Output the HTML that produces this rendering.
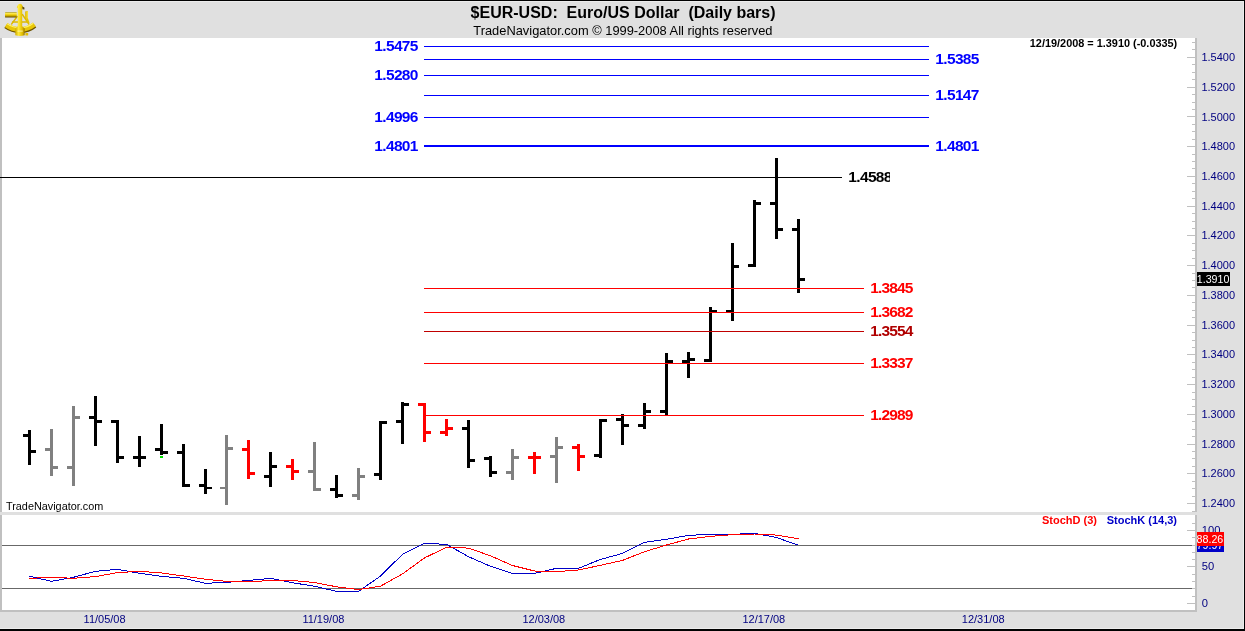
<!DOCTYPE html>
<html><head><meta charset="utf-8"><title>$EUR-USD Daily</title>
<style>
html,body{margin:0;padding:0;background:#fff}
#c{position:relative;width:1245px;height:631px;overflow:hidden;font-family:"Liberation Sans",sans-serif}
#c div{position:absolute;white-space:pre;line-height:1}
</style></head><body><div id="c">
<svg width="1245" height="631" viewBox="0 0 1245 631" shape-rendering="crispEdges" style="position:absolute;left:0;top:0"><rect x="0" y="0" width="1245" height="631" fill="#fff"/>
<rect x="0" y="1" width="1244" height="37" fill="#e0e0e0"/>
<rect x="1197" y="1" width="47" height="628" fill="#e0e0e0"/>
<rect x="0" y="612" width="1244" height="17" fill="#e0e0e0"/>
<rect x="0" y="38" width="2" height="574" fill="#c0c0c0"/>
<rect x="1195" y="38" width="2" height="574" fill="#c0c0c0"/>
<rect x="0" y="610" width="1197" height="2" fill="#c0c0c0"/>
<rect x="0" y="1" width="1244" height="1" fill="#ececec"/>
<rect x="1243" y="1" width="1" height="628" fill="#ececec"/>
<rect x="0" y="628" width="1244" height="1" fill="#ececec"/>
<rect x="0" y="0" width="1245" height="1" fill="#000"/>
<rect x="1244" y="0" width="1" height="631" fill="#000"/>
<rect x="0" y="629" width="1245" height="2" fill="#000"/>
<rect x="1192" y="42" width="3" height="1" fill="#c0c0c0"/>
<rect x="1192" y="49" width="3" height="1" fill="#c0c0c0"/>
<rect x="1187" y="57" width="8" height="1" fill="#c0c0c0"/>
<rect x="1192" y="64" width="3" height="1" fill="#c0c0c0"/>
<rect x="1192" y="72" width="3" height="1" fill="#c0c0c0"/>
<rect x="1192" y="79" width="3" height="1" fill="#c0c0c0"/>
<rect x="1187" y="87" width="8" height="1" fill="#c0c0c0"/>
<rect x="1192" y="94" width="3" height="1" fill="#c0c0c0"/>
<rect x="1192" y="102" width="3" height="1" fill="#c0c0c0"/>
<rect x="1192" y="109" width="3" height="1" fill="#c0c0c0"/>
<rect x="1187" y="116" width="8" height="1" fill="#c0c0c0"/>
<rect x="1192" y="124" width="3" height="1" fill="#c0c0c0"/>
<rect x="1192" y="131" width="3" height="1" fill="#c0c0c0"/>
<rect x="1192" y="139" width="3" height="1" fill="#c0c0c0"/>
<rect x="1187" y="146" width="8" height="1" fill="#c0c0c0"/>
<rect x="1192" y="154" width="3" height="1" fill="#c0c0c0"/>
<rect x="1192" y="161" width="3" height="1" fill="#c0c0c0"/>
<rect x="1192" y="168" width="3" height="1" fill="#c0c0c0"/>
<rect x="1187" y="176" width="8" height="1" fill="#c0c0c0"/>
<rect x="1192" y="183" width="3" height="1" fill="#c0c0c0"/>
<rect x="1192" y="191" width="3" height="1" fill="#c0c0c0"/>
<rect x="1192" y="198" width="3" height="1" fill="#c0c0c0"/>
<rect x="1187" y="206" width="8" height="1" fill="#c0c0c0"/>
<rect x="1192" y="213" width="3" height="1" fill="#c0c0c0"/>
<rect x="1192" y="221" width="3" height="1" fill="#c0c0c0"/>
<rect x="1192" y="228" width="3" height="1" fill="#c0c0c0"/>
<rect x="1187" y="235" width="8" height="1" fill="#c0c0c0"/>
<rect x="1192" y="243" width="3" height="1" fill="#c0c0c0"/>
<rect x="1192" y="250" width="3" height="1" fill="#c0c0c0"/>
<rect x="1192" y="258" width="3" height="1" fill="#c0c0c0"/>
<rect x="1187" y="265" width="8" height="1" fill="#c0c0c0"/>
<rect x="1192" y="273" width="3" height="1" fill="#c0c0c0"/>
<rect x="1192" y="280" width="3" height="1" fill="#c0c0c0"/>
<rect x="1192" y="287" width="3" height="1" fill="#c0c0c0"/>
<rect x="1187" y="295" width="8" height="1" fill="#c0c0c0"/>
<rect x="1192" y="302" width="3" height="1" fill="#c0c0c0"/>
<rect x="1192" y="310" width="3" height="1" fill="#c0c0c0"/>
<rect x="1192" y="317" width="3" height="1" fill="#c0c0c0"/>
<rect x="1187" y="325" width="8" height="1" fill="#c0c0c0"/>
<rect x="1192" y="332" width="3" height="1" fill="#c0c0c0"/>
<rect x="1192" y="340" width="3" height="1" fill="#c0c0c0"/>
<rect x="1192" y="347" width="3" height="1" fill="#c0c0c0"/>
<rect x="1187" y="354" width="8" height="1" fill="#c0c0c0"/>
<rect x="1192" y="362" width="3" height="1" fill="#c0c0c0"/>
<rect x="1192" y="369" width="3" height="1" fill="#c0c0c0"/>
<rect x="1192" y="377" width="3" height="1" fill="#c0c0c0"/>
<rect x="1187" y="384" width="8" height="1" fill="#c0c0c0"/>
<rect x="1192" y="392" width="3" height="1" fill="#c0c0c0"/>
<rect x="1192" y="399" width="3" height="1" fill="#c0c0c0"/>
<rect x="1192" y="406" width="3" height="1" fill="#c0c0c0"/>
<rect x="1187" y="414" width="8" height="1" fill="#c0c0c0"/>
<rect x="1192" y="421" width="3" height="1" fill="#c0c0c0"/>
<rect x="1192" y="429" width="3" height="1" fill="#c0c0c0"/>
<rect x="1192" y="436" width="3" height="1" fill="#c0c0c0"/>
<rect x="1187" y="444" width="8" height="1" fill="#c0c0c0"/>
<rect x="1192" y="451" width="3" height="1" fill="#c0c0c0"/>
<rect x="1192" y="458" width="3" height="1" fill="#c0c0c0"/>
<rect x="1192" y="466" width="3" height="1" fill="#c0c0c0"/>
<rect x="1187" y="473" width="8" height="1" fill="#c0c0c0"/>
<rect x="1192" y="481" width="3" height="1" fill="#c0c0c0"/>
<rect x="1192" y="488" width="3" height="1" fill="#c0c0c0"/>
<rect x="1192" y="496" width="3" height="1" fill="#c0c0c0"/>
<rect x="1187" y="503" width="8" height="1" fill="#c0c0c0"/>
<rect x="1192" y="511" width="3" height="1" fill="#c0c0c0"/>
<rect x="1187" y="603" width="8" height="1" fill="#c0c0c0"/>
<rect x="1192" y="596" width="3" height="1" fill="#c0c0c0"/>
<rect x="1192" y="588" width="3" height="1" fill="#c0c0c0"/>
<rect x="1192" y="581" width="3" height="1" fill="#c0c0c0"/>
<rect x="1192" y="574" width="3" height="1" fill="#c0c0c0"/>
<rect x="1187" y="566" width="8" height="1" fill="#c0c0c0"/>
<rect x="1192" y="559" width="3" height="1" fill="#c0c0c0"/>
<rect x="1192" y="552" width="3" height="1" fill="#c0c0c0"/>
<rect x="1192" y="545" width="3" height="1" fill="#c0c0c0"/>
<rect x="1192" y="537" width="3" height="1" fill="#c0c0c0"/>
<rect x="1187" y="530" width="8" height="1" fill="#c0c0c0"/>
<rect x="1192" y="523" width="3" height="1" fill="#c0c0c0"/>
<rect x="0" y="512" width="1197" height="3" fill="#e0e0e0"/>
<rect x="424" y="46" width="505" height="1" fill="#00f"/>
<rect x="424" y="59" width="505" height="1" fill="#00f"/>
<rect x="424" y="75" width="505" height="1" fill="#00f"/>
<rect x="424" y="95" width="505" height="1" fill="#00f"/>
<rect x="424" y="117" width="505" height="1" fill="#00f"/>
<rect x="424" y="145" width="505" height="2" fill="#00f"/>
<rect x="0" y="177" width="842" height="1" fill="#000"/>
<rect x="28" y="430" width="3" height="35" fill="#000"/>
<rect x="23" y="434" width="5" height="3" fill="#000"/>
<rect x="31" y="450" width="5" height="3" fill="#000"/>
<rect x="50" y="429" width="3" height="47" fill="#808080"/>
<rect x="45" y="448" width="5" height="3" fill="#808080"/>
<rect x="53" y="466" width="5" height="3" fill="#808080"/>
<rect x="72" y="406" width="3" height="80" fill="#808080"/>
<rect x="67" y="466" width="5" height="3" fill="#808080"/>
<rect x="75" y="416" width="5" height="3" fill="#808080"/>
<rect x="94" y="396" width="3" height="50" fill="#000"/>
<rect x="89" y="416" width="5" height="3" fill="#000"/>
<rect x="97" y="420" width="5" height="3" fill="#000"/>
<rect x="116" y="420" width="3" height="43" fill="#000"/>
<rect x="111" y="420" width="5" height="3" fill="#000"/>
<rect x="119" y="456" width="5" height="3" fill="#000"/>
<rect x="138" y="436" width="3" height="31" fill="#000"/>
<rect x="133" y="456" width="5" height="3" fill="#000"/>
<rect x="141" y="456" width="5" height="3" fill="#000"/>
<rect x="160" y="424" width="3" height="31" fill="#000"/>
<rect x="155" y="448" width="5" height="3" fill="#000"/>
<rect x="163" y="451" width="5" height="3" fill="#000"/>
<rect x="182" y="444" width="3" height="43" fill="#000"/>
<rect x="177" y="451" width="5" height="3" fill="#000"/>
<rect x="185" y="484" width="5" height="3" fill="#000"/>
<rect x="204" y="469" width="3" height="25" fill="#000"/>
<rect x="199" y="484" width="5" height="3" fill="#000"/>
<rect x="207" y="487" width="5" height="2" fill="#000"/>
<rect x="225" y="435" width="3" height="70" fill="#808080"/>
<rect x="220" y="487" width="5" height="2" fill="#808080"/>
<rect x="228" y="447" width="5" height="3" fill="#808080"/>
<rect x="247" y="440" width="3" height="39" fill="#f00"/>
<rect x="242" y="448" width="5" height="3" fill="#f00"/>
<rect x="250" y="472" width="5" height="3" fill="#f00"/>
<rect x="269" y="452" width="3" height="35" fill="#000"/>
<rect x="264" y="475" width="5" height="3" fill="#000"/>
<rect x="272" y="465" width="5" height="3" fill="#000"/>
<rect x="291" y="459" width="3" height="21" fill="#f00"/>
<rect x="286" y="465" width="5" height="3" fill="#f00"/>
<rect x="294" y="470" width="5" height="3" fill="#f00"/>
<rect x="313" y="442" width="3" height="49" fill="#808080"/>
<rect x="308" y="470" width="5" height="3" fill="#808080"/>
<rect x="316" y="488" width="5" height="3" fill="#808080"/>
<rect x="335" y="475" width="3" height="23" fill="#000"/>
<rect x="330" y="488" width="5" height="3" fill="#000"/>
<rect x="338" y="494" width="5" height="3" fill="#000"/>
<rect x="357" y="468" width="3" height="32" fill="#808080"/>
<rect x="352" y="494" width="5" height="3" fill="#808080"/>
<rect x="360" y="475" width="5" height="3" fill="#808080"/>
<rect x="379" y="421" width="3" height="59" fill="#000"/>
<rect x="374" y="473" width="5" height="3" fill="#000"/>
<rect x="382" y="421" width="5" height="3" fill="#000"/>
<rect x="401" y="402" width="3" height="42" fill="#000"/>
<rect x="396" y="420" width="5" height="3" fill="#000"/>
<rect x="404" y="403" width="5" height="3" fill="#000"/>
<rect x="423" y="403" width="3" height="39" fill="#f00"/>
<rect x="418" y="403" width="5" height="3" fill="#f00"/>
<rect x="426" y="431" width="5" height="3" fill="#f00"/>
<rect x="445" y="419" width="3" height="17" fill="#f00"/>
<rect x="440" y="431" width="5" height="3" fill="#f00"/>
<rect x="448" y="427" width="5" height="3" fill="#f00"/>
<rect x="467" y="420" width="3" height="48" fill="#000"/>
<rect x="462" y="427" width="5" height="3" fill="#000"/>
<rect x="470" y="459" width="5" height="3" fill="#000"/>
<rect x="489" y="456" width="3" height="21" fill="#000"/>
<rect x="484" y="457" width="5" height="3" fill="#000"/>
<rect x="492" y="471" width="5" height="3" fill="#000"/>
<rect x="511" y="449" width="3" height="31" fill="#808080"/>
<rect x="506" y="471" width="5" height="3" fill="#808080"/>
<rect x="514" y="456" width="5" height="3" fill="#808080"/>
<rect x="533" y="452" width="3" height="22" fill="#f00"/>
<rect x="528" y="456" width="5" height="3" fill="#f00"/>
<rect x="536" y="456" width="5" height="3" fill="#f00"/>
<rect x="555" y="437" width="3" height="46" fill="#808080"/>
<rect x="550" y="455" width="5" height="3" fill="#808080"/>
<rect x="558" y="446" width="5" height="3" fill="#808080"/>
<rect x="577" y="444" width="3" height="27" fill="#f00"/>
<rect x="572" y="446" width="5" height="3" fill="#f00"/>
<rect x="580" y="455" width="5" height="3" fill="#f00"/>
<rect x="599" y="419" width="3" height="39" fill="#000"/>
<rect x="594" y="454" width="5" height="3" fill="#000"/>
<rect x="602" y="419" width="5" height="3" fill="#000"/>
<rect x="621" y="414" width="3" height="31" fill="#000"/>
<rect x="616" y="418" width="5" height="3" fill="#000"/>
<rect x="624" y="424" width="5" height="3" fill="#000"/>
<rect x="643" y="403" width="3" height="26" fill="#000"/>
<rect x="638" y="424" width="5" height="3" fill="#000"/>
<rect x="646" y="410" width="5" height="3" fill="#000"/>
<rect x="665" y="353" width="3" height="63" fill="#000"/>
<rect x="660" y="410" width="5" height="3" fill="#000"/>
<rect x="668" y="360" width="5" height="3" fill="#000"/>
<rect x="687" y="352" width="3" height="26" fill="#000"/>
<rect x="682" y="360" width="5" height="3" fill="#000"/>
<rect x="690" y="358" width="5" height="3" fill="#000"/>
<rect x="709" y="307" width="3" height="55" fill="#000"/>
<rect x="704" y="359" width="5" height="3" fill="#000"/>
<rect x="712" y="310" width="5" height="3" fill="#000"/>
<rect x="731" y="243" width="3" height="78" fill="#000"/>
<rect x="726" y="310" width="5" height="3" fill="#000"/>
<rect x="734" y="265" width="5" height="3" fill="#000"/>
<rect x="753" y="200" width="3" height="67" fill="#000"/>
<rect x="748" y="264" width="5" height="3" fill="#000"/>
<rect x="756" y="202" width="5" height="3" fill="#000"/>
<rect x="775" y="158" width="3" height="81" fill="#000"/>
<rect x="770" y="202" width="5" height="3" fill="#000"/>
<rect x="778" y="228" width="5" height="3" fill="#000"/>
<rect x="797" y="219" width="3" height="74" fill="#000"/>
<rect x="792" y="228" width="5" height="3" fill="#000"/>
<rect x="800" y="278" width="5" height="3" fill="#000"/>
<rect x="160" y="456" width="3" height="2" fill="#00e000"/>
<rect x="424" y="288" width="440" height="1" fill="#f00"/>
<rect x="424" y="312" width="440" height="1" fill="#f00"/>
<rect x="424" y="331" width="440" height="1" fill="#c00000"/>
<rect x="424" y="363" width="440" height="1" fill="#f00"/>
<rect x="426" y="415" width="438" height="1" fill="#f00"/>
<rect x="2" y="545" width="1190" height="1" fill="#686868"/>
<rect x="2" y="588" width="1190" height="1" fill="#686868"/>
<polyline points="29.5,576.3 51.5,581.3 73.5,577.3 95.5,571.3 117.5,569.3 139.5,573.3 161.5,576.3 183.5,578.3 205.5,583.3 226.5,582.4 248.5,580.4 270.5,578.4 292.5,582.7 314.5,586.3 336.5,591.3 358.5,591.3 380.5,576.1 402.5,554.3 424.5,543.4 446.5,544.3 468.5,556.7 490.5,566.3 512.5,573.4 534.5,573.4 556.5,568.3 578.5,568.3 600.5,559.4 622.5,553.4 644.5,542.3 666.5,539.3 688.5,535.3 710.5,534.4 732.5,534.4 754.5,533.3 776.5,537.5 798.5,545.3" fill="none" stroke="#0000c8" stroke-width="1" stroke-linejoin="bevel" shape-rendering="crispEdges"/>
<polyline points="29.5,578.4 51.5,577.3 73.5,578.3 95.5,576.6 117.5,572.6 139.5,571.3 161.5,573.0 183.5,576.0 205.5,579.3 226.5,581.3 248.5,582.0 270.5,580.4 292.5,580.5 314.5,582.5 336.5,586.8 358.5,589.6 380.5,586.2 402.5,573.9 424.5,557.9 446.5,547.3 468.5,548.1 490.5,555.8 512.5,565.5 534.5,571.0 556.5,571.7 578.5,570.0 600.5,565.3 622.5,560.4 644.5,551.7 666.5,545.0 688.5,539.0 710.5,536.3 732.5,534.7 754.5,534.0 776.5,535.1 798.5,538.7" fill="none" stroke="#f00" stroke-width="1" stroke-linejoin="bevel" shape-rendering="crispEdges"/></svg>
<svg width="40" height="40" viewBox="0 0 40 40" style="position:absolute;left:0;top:0">
<defs>
<linearGradient id="gv" x1="0" y1="0" x2="0" y2="1"><stop offset="0" stop-color="#8a7a30"/><stop offset="0.18" stop-color="#fff060"/><stop offset="0.55" stop-color="#ecc800"/><stop offset="1" stop-color="#5a4400"/></linearGradient>
<linearGradient id="gh" x1="0" y1="0" x2="1" y2="0"><stop offset="0" stop-color="#d0aa00"/><stop offset="0.35" stop-color="#ffea38"/><stop offset="0.75" stop-color="#e2bc00"/><stop offset="1" stop-color="#9a7800"/></linearGradient>
</defs>
<g fill="none" stroke="#dcb800" stroke-width="1.4" stroke-linecap="round">
<path d="M17.2 16.5 L11.6 24"/><path d="M22.4 14.5 L28.8 24"/><path d="M12.6 22 H28.2"/>
</g>
<path d="M5.9 25.9 A23.5 23.5 0 0 0 34.6 25.3" fill="none" stroke="#6e5400" stroke-width="5.4"/>
<path d="M6.1 25.0 A23.5 23.5 0 0 0 34.4 24.4" fill="none" stroke="#e8c608" stroke-width="4.8"/>
<path d="M7.2 23.7 A22.2 22.2 0 0 0 33.3 23.2" fill="none" stroke="#fff264" stroke-width="1.1"/>
<rect x="5" y="12" width="11.8" height="5.6" rx="0.7" fill="url(#gv)"/>
<rect x="25.2" y="11.2" width="2.8" height="8" rx="0.6" fill="#dcb600"/>
<rect x="26.4" y="11.2" width="1.6" height="8" rx="0.6" fill="#f6dc30"/>
<path d="M27 18.6 L28.8 23" stroke="#e6c200" stroke-width="1.8"/>
<rect x="25.4" y="33" width="2.8" height="2.6" rx="0.5" fill="#e2be00"/>
<path d="M16.8 7.2 L18.2 4.6 L20 3.7 L21.8 4.6 L23.2 7.2 L22.2 8.2 L22.2 26.2 L24.7 28.6 L24.7 35.2 Q20 36.6 15.3 35.2 L15.3 28.6 L17.8 26.2 L17.8 8.2 Z" fill="url(#gh)"/>
<path d="M22.4 6.6 L24.4 7.6 L24.4 9.6 L22.4 9.2 Z" fill="#5e4a08"/>
<rect x="17.4" y="30.6" width="5.4" height="1" fill="#fff8b0" opacity="0.85"/>
</svg>
<div style="left:470.6px;top:5.02px;font-size:16px;color:#000;font-weight:bold;">$EUR-USD:  Euro/US Dollar  (Daily bars)</div>
<div style="left:473.3px;top:24.63px;font-size:12.86px;color:#000;">TradeNavigator.com © 1999-2008 All rights reserved</div>
<div style="left:1029.8px;top:37.95px;font-size:10.9px;color:#000;font-weight:bold;">12/19/2008 = 1.3910 (-0.0335)</div>
<div style="left:374.3px;top:38.13px;font-size:15.5px;color:#00f;font-weight:bold;letter-spacing:-0.65px;">1.5475</div>
<div style="left:374.3px;top:67.14px;font-size:15.5px;color:#00f;font-weight:bold;letter-spacing:-0.65px;">1.5280</div>
<div style="left:374.3px;top:109.14px;font-size:15.5px;color:#00f;font-weight:bold;letter-spacing:-0.65px;">1.4996</div>
<div style="left:374.3px;top:138.13px;font-size:15.5px;color:#00f;font-weight:bold;letter-spacing:-0.65px;">1.4801</div>
<div style="left:935.3px;top:51.13px;font-size:15.5px;color:#00f;font-weight:bold;letter-spacing:-0.65px;">1.5385</div>
<div style="left:935.3px;top:87.14px;font-size:15.5px;color:#00f;font-weight:bold;letter-spacing:-0.65px;">1.5147</div>
<div style="left:935.3px;top:138.13px;font-size:15.5px;color:#00f;font-weight:bold;letter-spacing:-0.65px;">1.4801</div>
<div style="left:848.3px;top:165px;width:41.5px;height:24px;overflow:hidden"><div style="left:0;top:4.13px;font-size:15.5px;font-weight:bold;letter-spacing:-0.65px;">1.4588</div></div>
<div style="left:870.3px;top:280.13px;font-size:15.5px;color:#f00;font-weight:bold;letter-spacing:-0.87px;">1.3845</div>
<div style="left:870.3px;top:304.13px;font-size:15.5px;color:#f00;font-weight:bold;letter-spacing:-0.87px;">1.3682</div>
<div style="left:870.3px;top:323.13px;font-size:15.5px;color:#b00000;font-weight:bold;letter-spacing:-0.87px;">1.3554</div>
<div style="left:870.3px;top:355.13px;font-size:15.5px;color:#f00;font-weight:bold;letter-spacing:-0.87px;">1.3337</div>
<div style="left:870.3px;top:407.13px;font-size:15.5px;color:#f00;font-weight:bold;letter-spacing:-0.87px;">1.2989</div>
<div style="left:1201.4px;top:52.07px;font-size:11.0px;color:#000080;">1.5400</div>
<div style="left:1201.4px;top:81.80px;font-size:11.0px;color:#000080;">1.5200</div>
<div style="left:1201.4px;top:111.54px;font-size:11.0px;color:#000080;">1.5000</div>
<div style="left:1201.4px;top:141.27px;font-size:11.0px;color:#000080;">1.4800</div>
<div style="left:1201.4px;top:171.00px;font-size:11.0px;color:#000080;">1.4600</div>
<div style="left:1201.4px;top:200.73px;font-size:11.0px;color:#000080;">1.4400</div>
<div style="left:1201.4px;top:230.47px;font-size:11.0px;color:#000080;">1.4200</div>
<div style="left:1201.4px;top:260.20px;font-size:11.0px;color:#000080;">1.4000</div>
<div style="left:1201.4px;top:289.93px;font-size:11.0px;color:#000080;">1.3800</div>
<div style="left:1201.4px;top:319.67px;font-size:11.0px;color:#000080;">1.3600</div>
<div style="left:1201.4px;top:349.40px;font-size:11.0px;color:#000080;">1.3400</div>
<div style="left:1201.4px;top:379.13px;font-size:11.0px;color:#000080;">1.3200</div>
<div style="left:1201.4px;top:408.87px;font-size:11.0px;color:#000080;">1.3000</div>
<div style="left:1201.4px;top:438.60px;font-size:11.0px;color:#000080;">1.2800</div>
<div style="left:1201.4px;top:468.33px;font-size:11.0px;color:#000080;">1.2600</div>
<div style="left:1201.4px;top:498.06px;font-size:11.0px;color:#000080;">1.2400</div>
<div style="left:1201.8px;top:525.30px;font-size:11.2px;color:#000080;">100</div>
<div style="left:1201.8px;top:561.30px;font-size:11.2px;color:#000080;">50</div>
<div style="left:1201.8px;top:598.10px;font-size:11.2px;color:#000080;">0</div>
<div style="left:1197px;top:538px;width:27px;height:14px;background:#0000c8"></div>
<div style="left:1197px;top:532px;width:27px;height:14px;background:#f00"></div>
<div style="left:1197px;top:272px;width:33px;height:14px;background:#000"></div>
<div style="left:1197px;top:546px;width:27px;height:6px;overflow:hidden"><div style="left:-0.4px;top:-5.66px;font-size:10.67px;color:#fff">79.97</div></div>
<div style="left:1196.6px;top:534.34px;font-size:10.67px;color:#fff;">88.26</div>
<div style="left:1196.8px;top:274.14px;font-size:10.67px;color:#fff;">1.3910</div>
<div style="left:6px;top:500.99px;font-size:10.85px;color:#000;">TradeNavigator.com</div>
<div style="left:1042px;top:514.87px;font-size:11.0px;color:#f00;font-weight:bold;">StochD (3)</div>
<div style="left:1106.7px;top:514.87px;font-size:11.0px;color:#0000c8;font-weight:bold;">StochK (14,3)</div>
<div style="left:83.6px;top:613.87px;font-size:11.0px;color:#000080;">11/05/08</div>
<div style="left:302.4px;top:613.87px;font-size:11.0px;color:#000080;">11/19/08</div>
<div style="left:522.4px;top:613.87px;font-size:11.0px;color:#000080;">12/03/08</div>
<div style="left:742.4px;top:613.87px;font-size:11.0px;color:#000080;">12/17/08</div>
<div style="left:961.8px;top:613.87px;font-size:11.0px;color:#000080;">12/31/08</div>
</div></body></html>
